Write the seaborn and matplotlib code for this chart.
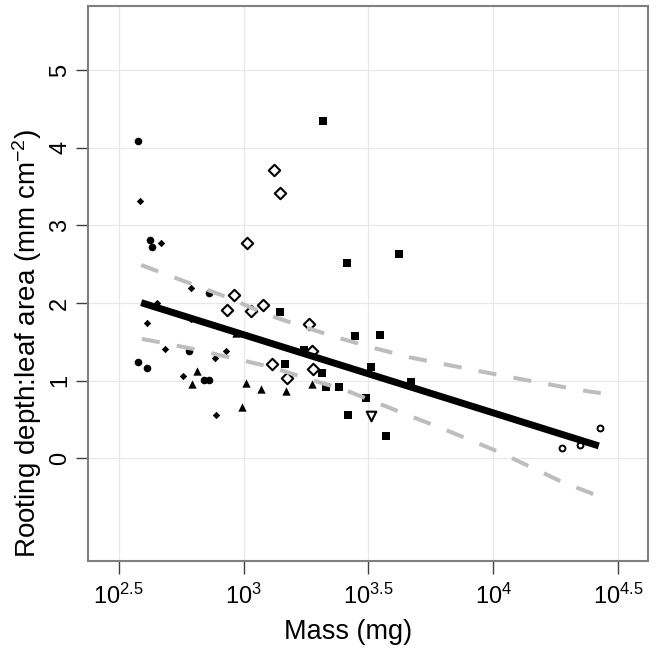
import numpy as np
import pandas as pd
import matplotlib
matplotlib.use("Agg")
import matplotlib.pyplot as plt
import seaborn as sns

# ---- data (log10 mass in mg, ratio in mm cm^-2) ----
circ_x = [2.577, 2.627, 2.633, 2.862, 2.577, 2.615, 2.842, 2.862, 2.780]
circ_y = [4.085, 2.81, 2.72, 2.13, 1.245, 1.16, 1.013, 1.013, 1.38]
sdia_x = [2.585, 2.668, 2.653, 2.613, 2.790, 2.684, 2.931, 2.887, 2.758, 2.890, 2.790, 3.009]
sdia_y = [3.32, 2.77, 2.00, 1.74, 1.79, 1.41, 1.38, 1.29, 1.065, 0.55, 2.19, 1.59]
tri_x = [2.971, 2.814, 2.795, 3.011, 3.070, 3.169, 2.994, 3.274]
tri_y = [1.61, 1.125, 0.95, 0.97, 0.897, 0.867, 0.657, 0.95]
odia_x = [3.120, 3.145, 3.014, 2.960, 2.933, 3.078, 3.030, 3.262, 3.274, 3.278, 3.175, 3.115]
odia_y = [3.71, 3.42, 2.77, 2.10, 1.915, 1.98, 1.90, 1.727, 1.38, 1.155, 1.03, 1.21]
sq_x = [3.317, 3.624, 3.413, 3.145, 3.446, 3.548, 3.241, 3.512, 3.669, 3.165,
        3.312, 3.328, 3.383, 3.490, 3.417, 3.571]
sq_y = [4.35, 2.63, 2.52, 1.89, 1.58, 1.593, 1.40, 1.17, 0.983, 1.21,
        1.10, 0.915, 0.92, 0.78, 0.554, 0.28]
otri_x = [3.509]
otri_y = [0.545]
ocirc_x = [4.273, 4.346, 4.425]
ocirc_y = [0.133, 0.167, 0.39]

fit_x = [2.59, 4.422]
fit_y = [2.005, 0.158]
upper_x = [2.59, 2.784, 2.938, 3.098, 3.238, 3.385, 3.525, 3.665, 3.806, 3.953, 4.093, 4.233, 4.386, 4.43]
upper_y = [2.49, 2.255, 2.07, 1.847, 1.696, 1.546, 1.418, 1.30, 1.21, 1.116, 1.03, 0.945, 0.858, 0.84]
lower_x = [2.593, 2.631, 2.798, 2.958, 3.112, 3.258, 3.405, 3.538, 3.665, 3.792, 3.906,
           4.033, 4.153, 4.277, 4.39, 4.424]
lower_y = [1.537, 1.515, 1.408, 1.289, 1.173, 1.022, 0.88, 0.709, 0.545, 0.387, 0.236,
           0.064, -0.12, -0.31, -0.45, -0.515]

xtick_logs = [2.5, 3, 3.5, 4, 4.5]
xtick_labels = ["$10^{2.5}$", "$10^{3}$", "$10^{3.5}$", "$10^{4}$", "$10^{4.5}$"]
ytick_vals = [0, 1, 2, 3, 4, 5]

sns.set_style("white")
plt.rcParams["font.family"] = ["Liberation Sans", "DejaVu Sans"]
plt.rcParams["mathtext.fontset"] = "custom"
plt.rcParams["mathtext.rm"] = "Liberation Sans"
plt.rcParams["mathtext.it"] = "Liberation Sans"
plt.rcParams["text.color"] = "black"
plt.rcParams["axes.labelcolor"] = "black"
plt.rcParams["xtick.color"] = "black"
plt.rcParams["ytick.color"] = "black"

fig = plt.figure(figsize=(6.56, 6.51), dpi=100)
ax = fig.add_axes([88 / 656, (651 - 561.3) / 651, (648 - 88) / 656, (561.3 - 6) / 651])
ax.set_xscale("log")

for v in xtick_logs:
    ax.axvline(10 ** v, color="#e8e8e8", lw=0.9, zorder=0)
for v in ytick_vals:
    ax.axhline(v, color="#e8e8e8", lw=0.9, zorder=0)

groups = [
    (circ_x, circ_y, dict(marker="o", s=30, color="black", edgecolor="black", linewidth=0)),
    (sdia_x, sdia_y, dict(marker="D", s=10, color="black", edgecolor="black", linewidth=0.6)),
    (tri_x, tri_y, dict(marker="^", s=36, color="black", edgecolor="black", linewidth=0)),
    (odia_x, odia_y, dict(marker="D", s=34, facecolor="white", edgecolor="black", linewidth=1.5)),
    (sq_x, sq_y, dict(marker="s", s=28, color="black", edgecolor="black", linewidth=0)),
    (otri_x, otri_y, dict(marker="v", s=48, facecolor="white", edgecolor="black", linewidth=1.5)),
    (ocirc_x, ocirc_y, dict(marker="o", s=18, facecolor="white", edgecolor="black", linewidth=1.4)),
]
for gx, gy, kw in groups:
    df = pd.DataFrame({"mass": 10 ** np.array(gx), "ratio": gy})
    sns.scatterplot(data=df, x="mass", y="ratio", ax=ax, zorder=3, **kw)

dash = (0, (4.5, 4.3))
sns.lineplot(x=10 ** np.array(upper_x), y=upper_y, ax=ax, color="#bdbdbd", lw=2.9,
             linestyle=dash, zorder=4, sort=False, estimator=None)
sns.lineplot(x=10 ** np.array(lower_x), y=lower_y, ax=ax, color="#bdbdbd", lw=2.9,
             linestyle=dash, zorder=4, sort=False, estimator=None)
sns.lineplot(x=10 ** np.array(fit_x), y=fit_y, ax=ax, color="black", lw=5,
             zorder=5, sort=False, estimator=None)
for l in ax.get_lines():
    l.set_solid_capstyle("butt")
    l.set_dash_capstyle("butt")

ax.set_xlim(10 ** 2.377, 10 ** 4.619)
ax.set_ylim(-1.33, 5.83)
ax.set_xticks([10 ** v for v in xtick_logs])
ax.set_xticklabels(xtick_labels)
ax.minorticks_off()
ax.set_yticks(ytick_vals)
ax.set_yticklabels([str(v) for v in ytick_vals], rotation=90, va="center")
ax.tick_params(axis="both", direction="out", length=9, width=1.0, color="#404040",
               labelsize=17, labelcolor="black", bottom=True, left=True)
ax.tick_params(axis="x", pad=7)
ax.tick_params(axis="y", pad=3)
for s in ax.spines.values():
    s.set_color("#7f7f7f")
    s.set_linewidth(1.5)

ax.set_xlabel("Mass (mg)", fontsize=19.5, color="black")
ax.set_ylabel("Rooting depth:leaf area (mm cm$^{-2}$)", fontsize=20, color="black")
ax.xaxis.set_label_coords((348 - 88) / 560, -(645 - 561.3) / 555.3)
ax.xaxis.label.set_va("bottom")
ax.yaxis.set_label_coords((27 - 88) / 560, (561.3 - 343) / 555.3)
ax.yaxis.label.set_va("center")
ax.yaxis.label.set_ha("center")
ax.grid(False)

fig.savefig("out.png", dpi=100)
